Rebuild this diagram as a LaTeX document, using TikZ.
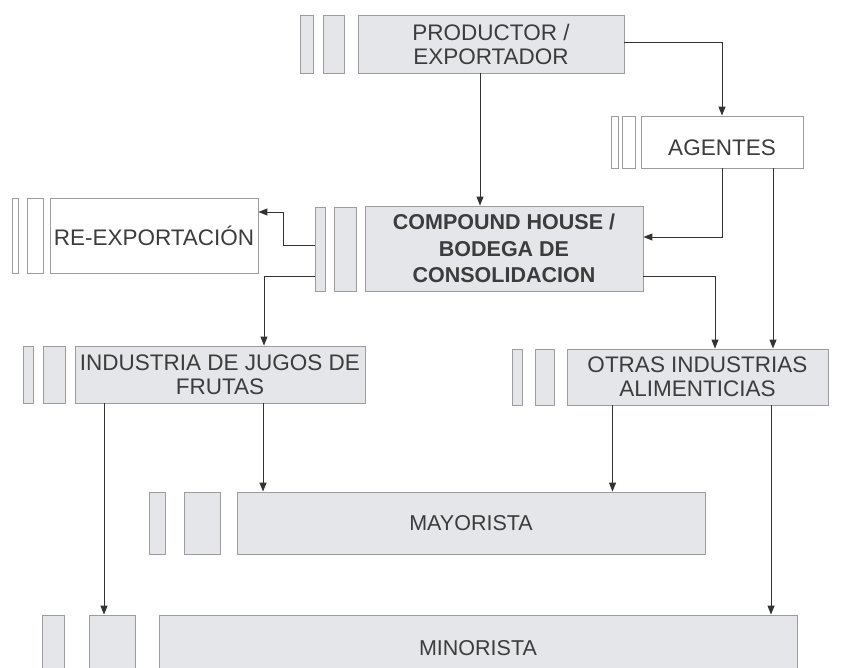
\documentclass[tikz,border=0pt]{standalone}
\usepackage{fontspec}
\setmainfont{Liberation Sans}
\usetikzlibrary{arrows.meta}
\definecolor{boxfill}{HTML}{E4E6EA}
\definecolor{bordercol}{HTML}{9C9C9C}
\definecolor{txtcol}{HTML}{3C3C3C}
\definecolor{arrcol}{HTML}{333333}
\begin{document}
\begin{tikzpicture}[x=1pt,y=-1pt,
  box/.style={draw=bordercol, fill=boxfill, line width=0.9pt, text=txtcol, align=center, inner sep=0pt,
    font=\fontsize{22.5}{24}\selectfont},
  wbox/.style={box, fill=white},
  bar/.style={draw=bordercol, fill=boxfill, line width=0.8pt, inner sep=0pt},
  wbar/.style={bar, fill=white},
  arr/.style={draw=arrcol, line width=1pt, -{Triangle[length=9pt,width=7pt]}},
  ln/.style={draw=arrcol, line width=1pt}]
\useasboundingbox (0,0) rectangle (851,667);
% PRODUCTOR
\node[bar, minimum width=13pt, minimum height=58pt] (pb1) at (306.5,44) {};
\node[bar, minimum width=21pt, minimum height=58pt] (pb2) at (333.5,44) {};
\node[box, minimum width=266pt, minimum height=58pt] (prod) at (491,44) {PRODUCTOR /\\EXPORTADOR};
% AGENTES
\node[wbar, minimum width=7pt, minimum height=52pt] (ab1) at (614.5,142) {};
\node[wbar, minimum width=13pt, minimum height=52pt] (ab2) at (628.5,142) {};
\node[wbox, minimum width=162pt, minimum height=52pt, text depth=0pt] (agen) at (722,142) {\raisebox{-12pt}{AGENTES}};
% RE-EXPORTACION
\node[wbar, minimum width=6pt, minimum height=75pt] (rb1) at (15,235.5) {};
\node[wbar, minimum width=16pt, minimum height=75pt] (rb2) at (35,235.5) {};
\node[wbox, minimum width=208pt, minimum height=75pt] (reexp) at (154,235.5) {\raisebox{-4pt}{RE-EXPORTACIÓN}};
% COMPOUND
\node[bar, minimum width=10pt, minimum height=84pt] (cb1) at (320,249) {};
\node[bar, minimum width=22pt, minimum height=84pt] (cb2) at (345,249) {};
\node[box, minimum width=278pt, minimum height=85pt, font=\bfseries\fontsize{21.5}{26.5}\selectfont] (comp) at (504,248.5) {COMPOUND HOUSE /\\BODEGA DE\\CONSOLIDACION};
% INDUSTRIA
\node[bar, minimum width=10pt, minimum height=57pt] (ib1) at (28,374.5) {};
\node[bar, minimum width=22pt, minimum height=57pt] (ib2) at (54,374.5) {};
\node[box, minimum width=290pt, minimum height=57pt] (ind) at (220,374.5) {INDUSTRIA DE JUGOS DE\\FRUTAS};
% OTRAS
\node[bar, minimum width=10pt, minimum height=56pt] (ob1) at (517,377) {};
\node[bar, minimum width=19pt, minimum height=56pt] (ob2) at (544.5,377) {};
\node[box, minimum width=261pt, minimum height=56pt] (otras) at (697.5,377) {OTRAS INDUSTRIAS\\ALIMENTICIAS};
% MAYORISTA
\node[bar, minimum width=16pt, minimum height=62pt] (mb1) at (157,523) {};
\node[bar, minimum width=36pt, minimum height=62pt] (mb2) at (202,523) {};
\node[box, minimum width=468pt, minimum height=62pt, font=\fontsize{21.5}{24}\selectfont] (may) at (471,523) {MAYORISTA};
% MINORISTA
\node[bar, minimum width=22pt, minimum height=66pt] (nb1) at (53,648) {};
\node[bar, minimum width=46pt, minimum height=66pt] (nb2) at (112,648) {};
\node[box, minimum width=638pt, minimum height=66pt, font=\fontsize{21.5}{24}\selectfont] (mino) at (478,648) {MINORISTA};
% connectors
\draw[arr] ([xshift=-11pt]prod.south) -- ([xshift=-24pt]comp.north);
\draw[arr] ([yshift=2pt]prod.east) -| (agen.north);
\draw[arr] (agen.south) |- ([yshift=11.5pt]comp.east);
\draw[arr] ([xshift=51pt]agen.south) -- ([xshift=51pt]agen.south |- otras.north);
\draw[arr] ([yshift=-27.5pt]comp.east) -| ([xshift=17.5pt]otras.north);
\draw[arr] ([yshift=3.5pt]cb1.west) -- ++(-31,0) |- ([yshift=23.5pt]reexp.east);
\draw[arr] ([yshift=-27pt]cb1.west) -| ([xshift=44pt]ind.north);
\draw[arr] ([xshift=43pt]ind.south) -- ([xshift=43pt]ind.south |- may.north);
\draw[arr] ([xshift=-85pt]otras.south) -- ([xshift=-85pt]otras.south |- may.north);
\draw[arr] ([xshift=-116pt]ind.south) -- ([xshift=-116pt]ind.south |- nb2.north);
\draw[arr] ([xshift=73.5pt]otras.south) -- ([xshift=73.5pt]otras.south |- mino.north);
\end{tikzpicture}
\end{document}
